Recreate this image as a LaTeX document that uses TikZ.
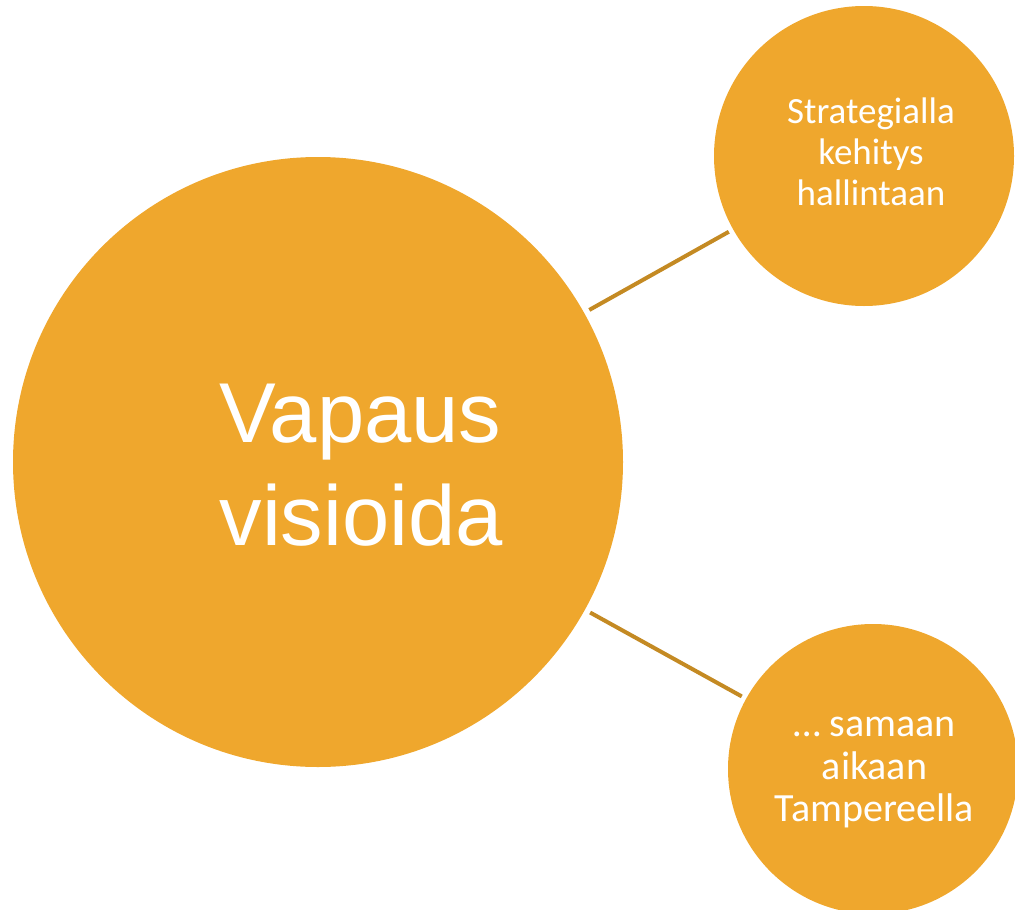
\documentclass[tikz,border=0pt]{standalone}
\usepackage{fontspec}
\setmainfont{Liberation Sans}
\newfontfamily\smallfont{Carlito}
\definecolor{orfill}{HTML}{EFA72D}
\definecolor{orline}{HTML}{C48A23}
\begin{document}
\begin{tikzpicture}[x=1pt,y=-1pt,
  bubble/.style={circle,fill=orfill,draw=none,inner sep=0pt,outer sep=0pt},
  conn/.style={draw=orline,line width=4pt,shorten <=6pt,shorten >=5pt},
  bigtext/.style={text=white,align=left,font={\fontsize{85}{102.5}\selectfont}},
  smalltext/.style={text=white,align=center}]
\useasboundingbox (0,0) rectangle (1015,910);
\clip (0,0) rectangle (1015,910);
\node[bubble,minimum size=610pt] (big) at (318,462) {};
\node[bubble,minimum size=300pt] (top) at (864,156) {};
\node[bubble,minimum size=290pt] (bot) at (873,769) {};
\draw[conn] (big) -- (top);
\draw[conn] (big) -- (bot);
\node[bigtext,anchor=base west] (bigtxt) at (216,545) {Vapaus\\visioida};
\node[smalltext,anchor=base,font={\smallfont\fontsize{37}{41}\selectfont}] (toptxt) at (871,205) {Strategialla\\kehitys\\hallintaan};
\node[smalltext,anchor=base,font={\smallfont\fontsize{40}{42.5}\selectfont}] (bottxt) at (874.5,821.7) {\dots{} samaan\\aikaan\\Tampereella};
\end{tikzpicture}
\end{document}
